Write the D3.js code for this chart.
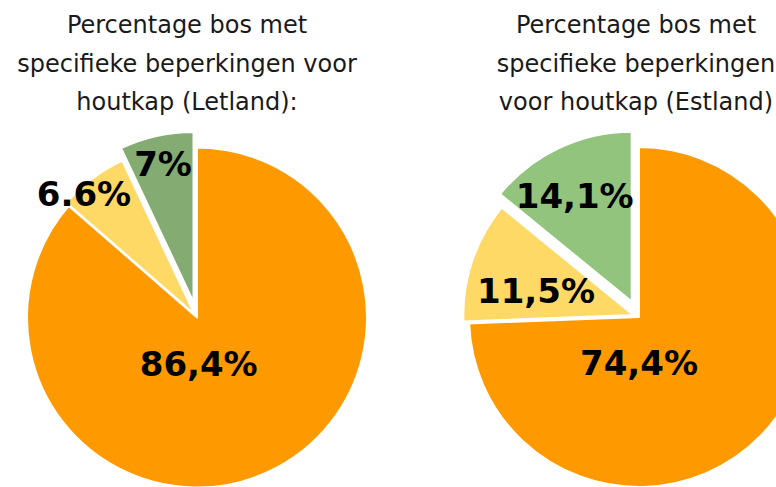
<!DOCTYPE html>
<html>
<head>
<meta charset="utf-8">
<script src="https://cdn.jsdelivr.net/npm/d3@7/dist/d3.min.js"></script>
<style>
  html, body { margin: 0; padding: 0; background: #fff; overflow: hidden; }
  svg { display: block; font-family: "DejaVu Sans", sans-serif; }
</style>
</head>
<body>
<svg id="chart" width="776" height="487"></svg>
<script>
// slice order: no restriction, partial restriction, strict restriction
const categories = ["geen", "gedeeltelijk", "streng"];

const letlandValues = [86.4, 6.6, 7];
const letlandLabels = ["86,4%", "6.6%", "7%"];
const letlandTitle = ["Percentage bos met", "specifieke beperkingen voor", "houtkap (Letland):"];

const estlandValues = [74.4, 11.5, 14.1];
const estlandLabels = ["74,4%", "11,5%", "14,1%"];
const estlandTitle = ["Percentage bos met", "specifieke beperkingen", "voor houtkap (Estland)"];

const width = 776;
const height = 487;
const radius = 170;

const charts = [
  {
    values: letlandValues,
    labels: letlandLabels,
    title: letlandTitle,
    cx: 197, cy: 317.5, titleX: 187,
    colors: ["#ff9900", "#ffd966", "#84ab71"],
    explode: [0, 4, 16],
    // label centres relative to the pie centre (placed by hand in the original)
    labelOffsets: [[1.7, 46.5], [-113, -123.5], [-34, -154]]
  },
  {
    values: estlandValues,
    labels: estlandLabels,
    title: estlandTitle,
    cx: 639, cy: 317, titleX: 636,
    colors: ["#ff9900", "#ffd966", "#93c47d"],
    explode: [0, 6, 17],
    labelOffsets: [[0, 45.3], [-103, -26.7], [-64.3, -121.7]]
  }
];

const svg = d3.select("#chart").attr("width", width).attr("height", height);

const pie = d3.pie().sort(null).value((d) => d);
const arc = d3.arc().innerRadius(0).outerRadius(radius);

charts.forEach((c) => {
  const color = d3.scaleOrdinal().domain(categories).range(c.colors);

  // title
  svg.append("text")
    .attr("text-anchor", "middle")
    .attr("font-size", 24)
    .attr("fill", "#1a1a1a")
    .selectAll("tspan")
    .data(c.title)
    .join("tspan")
    .attr("x", c.titleX)
    .attr("y", (d, i) => 33 + i * 38.5)
    .text((d) => d);

  const g = svg.append("g").attr("transform", `translate(${c.cx},${c.cy})`);
  const arcs = pie(c.values);

  g.selectAll("path")
    .data(arcs)
    .join("path")
    .attr("transform", (d, i) => {
      const a = (d.startAngle + d.endAngle) / 2;
      const off = c.explode[i];
      return `translate(${Math.sin(a) * off},${-Math.cos(a) * off})`;
    })
    .attr("d", arc)
    .attr("fill", (d, i) => color(categories[i]))
    .attr("stroke", "#fff")
    .attr("stroke-width", 2)
    .attr("stroke-linejoin", "round");

  g.selectAll("text.lbl")
    .data(arcs)
    .join("text")
    .attr("class", "lbl")
    .attr("x", (d, i) => c.labelOffsets[i][0])
    .attr("y", (d, i) => c.labelOffsets[i][1])
    .attr("dy", "0.36em")
    .attr("text-anchor", "middle")
    .attr("font-size", 34)
    .attr("font-weight", "bold")
    .attr("fill", "#000")
    .text((d, i) => c.labels[i]);
});
</script>
</body>
</html>
